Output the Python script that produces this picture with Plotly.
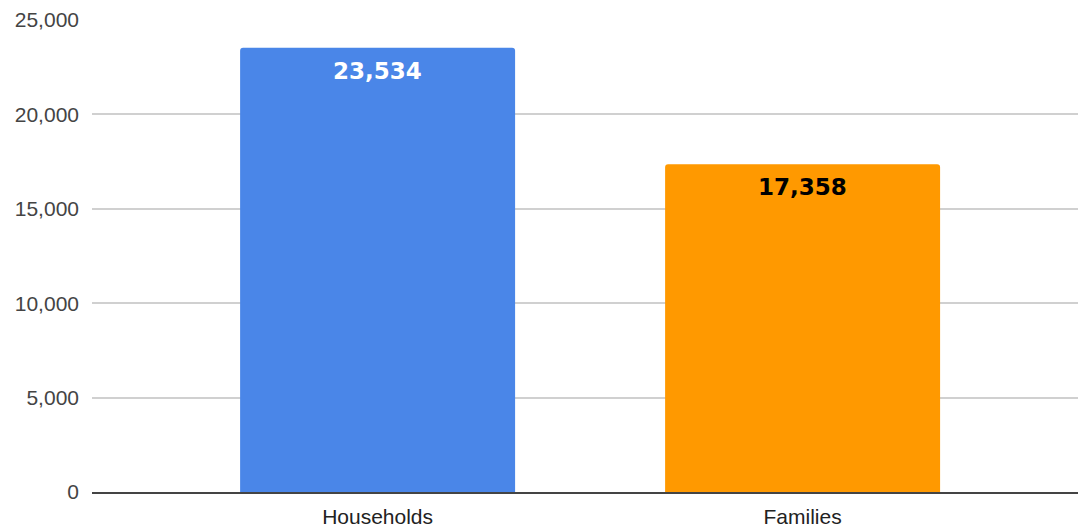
import plotly.graph_objects as go

# datos
categorias = ['Households', 'Families']
valores = [23534, 17358]
colores = ['#4a86e8', '#ff9900']
color_texto = ['white', 'black']
y_ticks = [0, 5000, 10000, 15000, 20000, 25000]
y_tick_text = ['0', '5,000', '10,000', '15,000', '20,000', '25,000']

fig = go.Figure()

fig.add_trace(go.Bar(x=categorias, y=valores, marker=dict(color=colores, cornerradius=3, line_width=0),
                     hoverinfo='skip'))

# etiquetas dentro de las barras
for cat, val, col in zip(categorias, valores, color_texto):
    fig.add_annotation(x=cat, y=val, text='{:,}'.format(val), showarrow=False, yanchor='top', yshift=-8,
                       font=dict(family='DejaVu Sans', size=23, color=col, weight='bold'))

fig.update_layout(width=1078, height=529, plot_bgcolor='white', paper_bgcolor='white',
                  margin=dict(l=92, r=0, t=20, b=37, autoexpand=False), bargap=0.353, showlegend=False,
                  font=dict(family='Liberation Sans, Arial', size=21, color='#333'))

fig.update_xaxes(type='category', range=[-0.672, 1.648], showline=True, linecolor='#444', linewidth=2,
                 showgrid=False, ticks='', ticklabelstandoff=5, tickfont=dict(color='#222'))
fig.update_yaxes(range=[0, 25000], tickvals=y_ticks, ticktext=y_tick_text, showgrid=True,
                 gridcolor='#d0d0d0', gridwidth=1.5, zeroline=False, ticklabelstandoff=12,
                 tickfont=dict(color='#444'))

# sin margen en el body para que la figura ocupe toda la ventana
fig.write_html("out.html", config={'displayModeBar': False},
               post_script="document.body.style.margin='0';")
